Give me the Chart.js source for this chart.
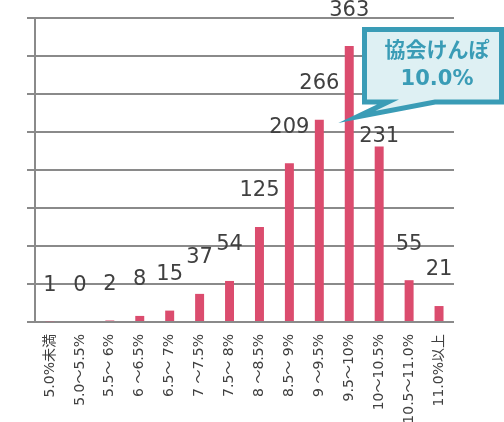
<!DOCTYPE html>
<html>
<head>
<meta charset="utf-8">
<script src="https://cdn.jsdelivr.net/npm/chart.js@4/dist/chart.umd.min.js"></script>
<style>
  html, body { margin: 0; padding: 0; background: #fff; }
  #wrap { width: 504px; height: 422px; }
</style>
</head>
<body>
<div id="wrap"><canvas id="chart"></canvas></div>
<script>
// categories (保険料率の区分)
const categories = [
  "5.0%未満", "5.0～5.5%", "5.5～ 6%", "6 ～6.5%", "6.5～ 7%", "7 ～7.5%", "7.5～ 8%",
  "8 ～8.5%", "8.5～ 9%", "9 ～9.5%", "9.5～10%", "10～10.5%", "10.5～11.0%", "11.0%以上"
];
// number of plans per category
const counts = [1, 0, 2, 8, 15, 37, 54, 125, 209, 266, 363, 231, 55, 21];
// callout text, pointing at the 9.5～10% bar
const calloutLines = ["協会けんぽ", "10.0%"];
const calloutIndex = 10;

const barColor = "#db4c6e";
const gridColor = "#8a8a8a";
const textColor = "#404040";
const teal = "#3a9cb6";
const fontStack = '"DejaVu Sans", "Noto Sans CJK JP", sans-serif';

// draws the numbers above the bars
const valueLabels = {
  id: "valueLabels",
  afterDatasetsDraw(chart) {
    const ctx = chart.ctx;
    const meta = chart.getDatasetMeta(0);
    ctx.save();
    ctx.font = "21px " + fontStack;
    ctx.fillStyle = textColor;
    ctx.textAlign = "center";
    ctx.textBaseline = "middle";
    meta.data.forEach((bar, i) => {
      const lift = i === 11 ? 10 : 36; // 231 sits lower so it clears the callout
      ctx.fillText(String(counts[i]), bar.x, bar.y - lift);
    });
    ctx.restore();
  }
};

// speech-bubble callout
const callout = {
  id: "callout",
  afterDraw(chart) {
    const ctx = chart.ctx;
    const bar = chart.getDatasetMeta(0).data[calloutIndex];
    const tipX = bar.x + bar.width / 2 + 3;
    const tipY = 117;
    const l = 364.5, t = 29.5, r = 501.5, b = 102;
    ctx.save();
    ctx.beginPath();
    ctx.moveTo(l, t);
    ctx.lineTo(r, t);
    ctx.lineTo(r, b);
    ctx.lineTo(435, b);
    ctx.lineTo(tipX, tipY);
    ctx.lineTo(388, b);
    ctx.lineTo(l, b);
    ctx.closePath();
    ctx.fillStyle = "#def0f3";
    ctx.fill();
    ctx.lineWidth = 5;
    ctx.lineJoin = "miter";
    ctx.strokeStyle = teal;
    ctx.stroke();
    ctx.fillStyle = teal;
    ctx.font = "bold 21px " + fontStack;
    ctx.textAlign = "center";
    ctx.textBaseline = "middle";
    ctx.fillText(calloutLines[0], 437, 52);
    ctx.fillText(calloutLines[1], 437, 80);
    ctx.restore();
  }
};

const data = {
  labels: categories,
  datasets: [{
    data: counts,
    backgroundColor: barColor,
    categoryPercentage: 1,
    barPercentage: 0.3
  }]
};

const config = {
  type: "bar",
  data,
  options: {
    responsive: true,
    maintainAspectRatio: false,
    animation: false,
    layout: { padding: { left: 27, right: 50, top: 18, bottom: 0 } },
    plugins: { legend: { display: false }, tooltip: { enabled: false } },
    scales: {
      x: {
        grid: { display: false },
        border: { display: false },
        ticks: {
          color: textColor,
          font: { family: fontStack, size: 14 },
          minRotation: 90,
          maxRotation: 90,
          padding: 4,
          autoSkip: false
        },
        afterFit: (scale) => { scale.height = 100; }
      },
      y: {
        min: 0,
        max: 400,
        ticks: { stepSize: 50, display: false },
        grid: { color: gridColor, lineWidth: 2, drawTicks: true, tickLength: 8 },
        border: { display: true, color: gridColor, width: 2 }
      }
    }
  },
  plugins: [valueLabels, callout]
};

new Chart(document.getElementById("chart"), config);
</script>
</body>
</html>
